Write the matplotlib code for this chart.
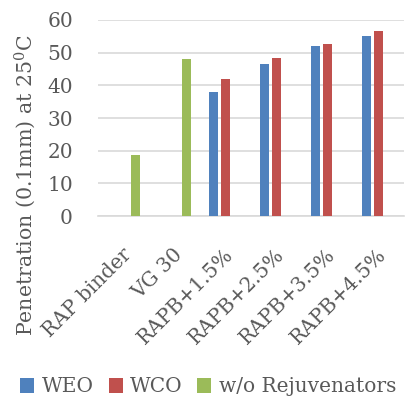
import matplotlib
matplotlib.use("Agg")
import matplotlib.pyplot as plt
import matplotlib.transforms as mtransforms
import numpy as np

categories = ["RAP binder", "VG 30", "RAPB+1.5%", "RAPB+2.5%", "RAPB+3.5%", "RAPB+4.5%"]
weo = [np.nan, np.nan, 38.0, 46.6, 52.1, 55.2]
wco = [np.nan, np.nan, 42.0, 48.5, 52.7, 56.6]
no_rejuv = [18.6, 48.0, np.nan, np.nan, np.nan, np.nan]
series_names = ["WEO", "WCO", "w/o Rejuvenators"]
colors = ["#4F81BD", "#C0504D", "#9BBB59"]
yticks = [0, 10, 20, 30, 40, 50, 60]

text_color = "#595959"
plt.rcParams["font.family"] = ["DejaVu Serif"]
plt.rcParams["mathtext.fontset"] = "dejavuserif"

fs = 14.5

fig = plt.figure(figsize=(4.08, 3.99), dpi=100)
ax = fig.add_axes([0.240, 0.4586, 0.750, 0.4913])

x = np.arange(len(categories))
pitch = 0.235
width = 0.19
for i, (vals, name, c) in enumerate(zip([weo, wco, no_rejuv], series_names, colors)):
    ax.bar(x + (i - 1) * pitch, vals, width=width, color=c, label=name, zorder=3)

ax.set_xlim(-0.5, len(categories) - 0.5)
ax.set_ylim(0, 60)
ax.set_yticks(yticks)
ax.set_yticklabels([str(v) for v in yticks])
ax.yaxis.grid(True, color="#D9D9D9", linewidth=1.2, zorder=0)
for s in ["top", "right", "left"]:
    ax.spines[s].set_visible(False)
ax.spines["bottom"].set_color("#D9D9D9")
ax.spines["bottom"].set_linewidth(1.2)
ax.tick_params(axis="both", length=0, labelsize=fs, colors=text_color)
ax.tick_params(axis="y", pad=18)

ax.set_xticks(x)
ax.set_xticklabels(categories, rotation=45, ha="right", va="top",
                   rotation_mode="anchor")
ax.tick_params(axis="x", pad=21)
shift = mtransforms.ScaledTranslation(-2 / 100, 0, fig.dpi_scale_trans)
for lbl in ax.get_xticklabels():
    lbl.set_transform(lbl.get_transform() + shift)

ax.set_ylabel("Penetration (0.1mm) at 25$^{0}$C", fontsize=14.8, color=text_color)
ax.yaxis.set_label_coords(-0.197, 0.158)

fig.legend(loc="center", bbox_to_anchor=(0.51, 1 - 387 / 399), ncol=3,
           frameon=False, fontsize=fs, handlelength=0.7, handleheight=0.7,
           handletextpad=0.35, columnspacing=0.75, labelcolor=text_color,
           borderpad=0, borderaxespad=0)

fig.savefig("out.png", dpi=100)
